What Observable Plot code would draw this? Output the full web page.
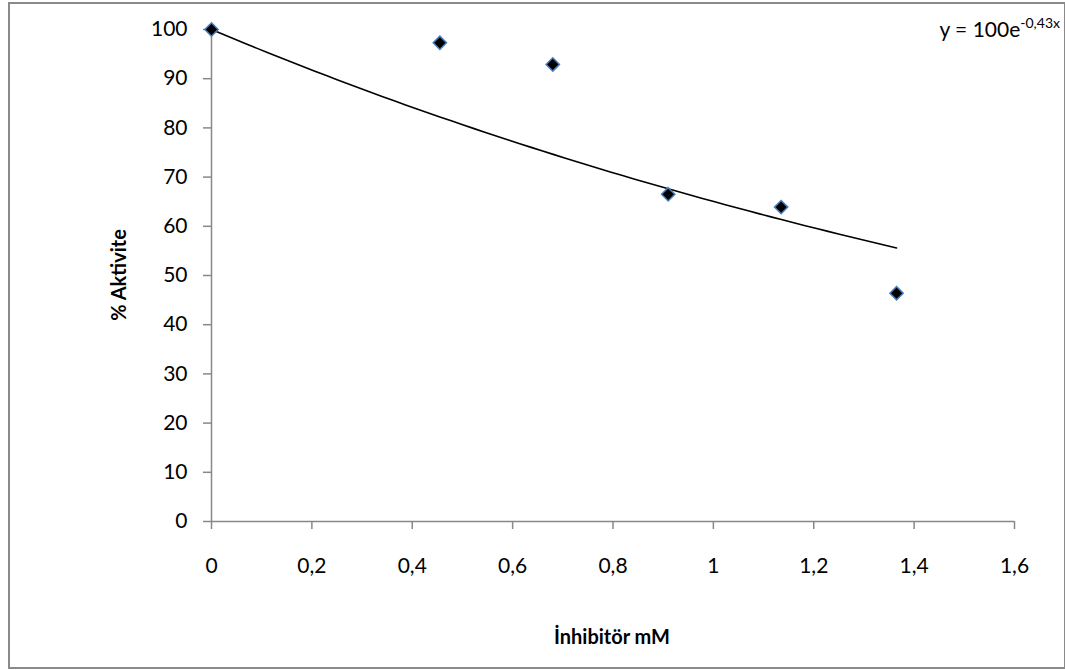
<!DOCTYPE html>
<html>
<head>
<meta charset="utf-8">
<script src="https://cdn.jsdelivr.net/npm/d3@7"></script>
<script src="https://cdn.jsdelivr.net/npm/@observablehq/plot@0.6"></script>
<style>
  html, body { margin: 0; padding: 0; background: #fff; }
  #wrap { position: relative; width: 1065px; height: 670px; overflow: hidden; }
  #frame { position: absolute; left: 8px; top: 2px; width: 1054px; height: 663px; border: 2px solid #8a8a8a; box-sizing: content-box; pointer-events: none; }
  #chart { position: absolute; left: 0; top: 0; }
</style>
</head>
<body>
<div id="wrap"><div id="chart"></div><div id="frame"></div></div>
<script>
// Measured data
const inhibitor = [0, 0.455, 0.68, 0.91, 1.135, 1.365];
const activity  = [100, 97.3, 92.9, 66.5, 63.9, 46.4];
const xTicks = [0, 0.2, 0.4, 0.6, 0.8, 1, 1.2, 1.4, 1.6];
const yTicks = [0, 10, 20, 30, 40, 50, 60, 70, 80, 90, 100];
// Trendline shown in chart: y = 100 e^(-0.43 x)
const trendA = 100;
const trendB = -0.43;
const trendRange = [0, 1.365];

const points = inhibitor.map((x, i) => ({x, y: activity[i]}));
const nT = 60;
const trend = d3.range(nT + 1).map(i => {
  const x = trendRange[0] + (trendRange[1] - trendRange[0]) * i / nT;
  return {x, y: trendA * Math.exp(trendB * x)};
});

const fmt = d => String(d).replace(".", ",");
const font = "Lato, 'Open Sans', sans-serif";

const plot = Plot.plot({
  width: 1065,
  height: 670,
  marginLeft: 211,
  marginRight: 51,
  marginTop: 29,
  marginBottom: 149,
  style: {fontFamily: font, fontSize: "21px", color: "#000", background: "transparent"},
  x: {domain: [0, 1.6]},
  y: {domain: [0, 100]},
  marks: [
    Plot.ruleX([0], {stroke: "#888", strokeWidth: 1.5}),
    Plot.ruleY([0], {stroke: "#888", strokeWidth: 1.5}),
    Plot.axisX({ticks: xTicks, tickFormat: fmt, tickSize: 8, tickPadding: 29, stroke: "#888", strokeWidth: 1.5, label: null, fill: "#000"}),
    Plot.axisY({ticks: yTicks, tickFormat: fmt, tickSize: 8, tickPadding: 16, stroke: "#888", strokeWidth: 1.5, label: null, fill: "#000"}),
    Plot.line(trend, {x: "x", y: "y", stroke: "#000", strokeWidth: 1.6}),
    Plot.dot(points, {x: "x", y: "y", symbol: "diamond2", r: 6, fill: "#000", stroke: "#4a7ebb", strokeWidth: 1.5})
  ]
});

const svg = d3.select(plot);
svg.append("text")
  .attr("transform", "translate(126,275) rotate(-90)")
  .attr("text-anchor", "middle")
  .attr("font-family", font)
  .attr("font-weight", "bold")
  .attr("font-size", 20)
  .text("% Aktivite");
svg.append("text")
  .attr("x", 612).attr("y", 644)
  .attr("text-anchor", "middle")
  .attr("font-family", font)
  .attr("font-weight", "bold")
  .attr("font-size", 20)
  .text("İnhibitör mM");
const eq = svg.append("text")
  .attr("x", 1060).attr("y", 37)
  .attr("text-anchor", "end")
  .attr("font-family", font)
  .attr("font-size", 21);
eq.append("tspan").text("y = 100e");
eq.append("tspan").attr("font-size", 14).attr("dy", -9).text("-0,43x");

document.getElementById("chart").appendChild(plot);
</script>
</body>
</html>
